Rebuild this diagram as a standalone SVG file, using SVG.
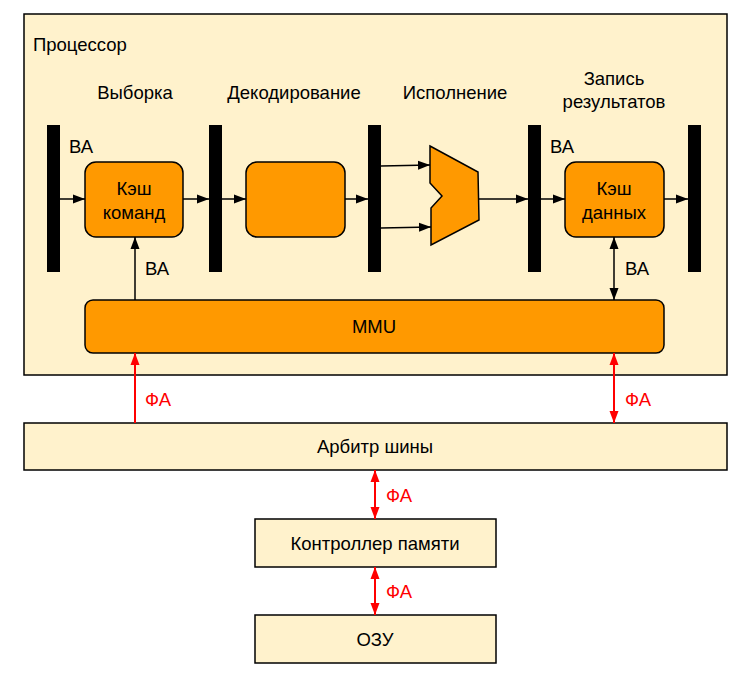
<svg xmlns="http://www.w3.org/2000/svg" width="753" height="689" viewBox="0 0 753 689">
<defs>
<style>
.box{fill:#FFF2CC;stroke:#000;stroke-width:1.5}
.or{fill:#FF9900;stroke:#000;stroke-width:1.5}
.bar{fill:#000}
text{font-family:"Liberation Sans",Arial,sans-serif;font-size:18.5px;fill:#000}
.c{text-anchor:middle}
.red{fill:#FF0000}
.ln{stroke:#000;stroke-width:1.5;fill:none}
.rl{stroke:#FF0000;stroke-width:2;fill:none}
</style>
<marker id="ah" viewBox="0 0 12 10" refX="12" refY="5" markerWidth="12" markerHeight="10" markerUnits="userSpaceOnUse" orient="auto-start-reverse"><path d="M0,0.5 L12,5 L0,9.5 z" fill="#000"/></marker>
<marker id="rh" viewBox="0 0 12 10" refX="12" refY="5" markerWidth="12" markerHeight="10" markerUnits="userSpaceOnUse" orient="auto-start-reverse"><path d="M0,0.5 L12,5 L0,9.5 z" fill="#FF0000"/></marker>
</defs>
<g id="processor">
<rect class="box" x="24" y="14" width="703" height="361"/>
<text x="33" y="51">Процессор</text>
<text class="c" x="135" y="99">Выборка</text>
<text class="c" x="294" y="99">Декодирование</text>
<text class="c" x="455" y="99">Исполнение</text>
<text class="c" x="614" y="85">Запись</text>
<text class="c" x="614" y="108">результатов</text>
</g>
<g id="bars">
<rect class="bar" x="47" y="125" width="13" height="147"/>
<rect class="bar" x="209" y="125" width="13" height="147"/>
<rect class="bar" x="368" y="125" width="13" height="147"/>
<rect class="bar" x="528" y="125" width="13" height="147"/>
<rect class="bar" x="688" y="125" width="13" height="147"/>
</g>
<g id="icache">
<rect class="or" x="85" y="162" width="98" height="75" rx="11"/>
<text class="c" x="134" y="195">Кэш</text>
<text class="c" x="134" y="219">команд</text>
</g>
<g id="decode">
<rect class="or" x="246" y="162" width="99" height="75" rx="11"/>
</g>
<g id="alu">
<path class="or" d="M430,146 L478,172 L479,220 L431,245 L431,208 L442,196 L430,183 Z"/>
</g>
<g id="dcache">
<rect class="or" x="565" y="162" width="99" height="75" rx="11"/>
<text class="c" x="614" y="195">Кэш</text>
<text class="c" x="614" y="219">данных</text>
</g>
<g id="mmu">
<rect class="or" x="85" y="300" width="579" height="53" rx="8"/>
<text class="c" x="374" y="333">MMU</text>
</g>
<g id="arbiter">
<rect class="box" x="24" y="423" width="703" height="47"/>
<text class="c" x="375" y="453">Арбитр шины</text>
</g>
<g id="memctrl">
<rect class="box" x="255" y="519" width="241" height="48"/>
<text class="c" x="375" y="550">Контроллер памяти</text>
</g>
<g id="ram">
<rect class="box" x="255" y="615" width="241" height="48"/>
<text class="c" x="375" y="646">ОЗУ</text>
</g>
<g id="connectors">
<line class="ln" x1="60" y1="199" x2="85" y2="199" marker-end="url(#ah)"/>
<line class="ln" x1="183" y1="199" x2="209" y2="199" marker-end="url(#ah)"/>
<line class="ln" x1="222" y1="199" x2="246" y2="199" marker-end="url(#ah)"/>
<line class="ln" x1="345" y1="199" x2="368" y2="199" marker-end="url(#ah)"/>
<line class="ln" x1="381" y1="166" x2="430" y2="165" marker-end="url(#ah)"/>
<line class="ln" x1="381" y1="228" x2="431" y2="227" marker-end="url(#ah)"/>
<line class="ln" x1="479" y1="199" x2="528" y2="199" marker-end="url(#ah)"/>
<line class="ln" x1="541" y1="199" x2="565" y2="199" marker-end="url(#ah)"/>
<line class="ln" x1="664" y1="199" x2="688" y2="199" marker-end="url(#ah)"/>
<line class="ln" x1="135" y1="300" x2="135" y2="237" marker-end="url(#ah)"/>
<line class="ln" x1="614" y1="237" x2="614" y2="300" marker-start="url(#ah)" marker-end="url(#ah)"/>
<line class="rl" x1="135" y1="423" x2="135" y2="353" marker-end="url(#rh)"/>
<line class="rl" x1="614" y1="353" x2="614" y2="423" marker-start="url(#rh)" marker-end="url(#rh)"/>
<line class="rl" x1="375" y1="470" x2="375" y2="519" marker-start="url(#rh)" marker-end="url(#rh)"/>
<line class="rl" x1="375" y1="567" x2="375" y2="615" marker-start="url(#rh)" marker-end="url(#rh)"/>
<text x="69" y="153">ВА</text>
<text x="550" y="153">ВА</text>
<text x="145" y="275">ВА</text>
<text x="625" y="275">ВА</text>
<text class="red" x="145" y="406">ФА</text>
<text class="red" x="625" y="406">ФА</text>
<text class="red" x="386" y="502">ФА</text>
<text class="red" x="386" y="598">ФА</text>
</g>
</svg>
